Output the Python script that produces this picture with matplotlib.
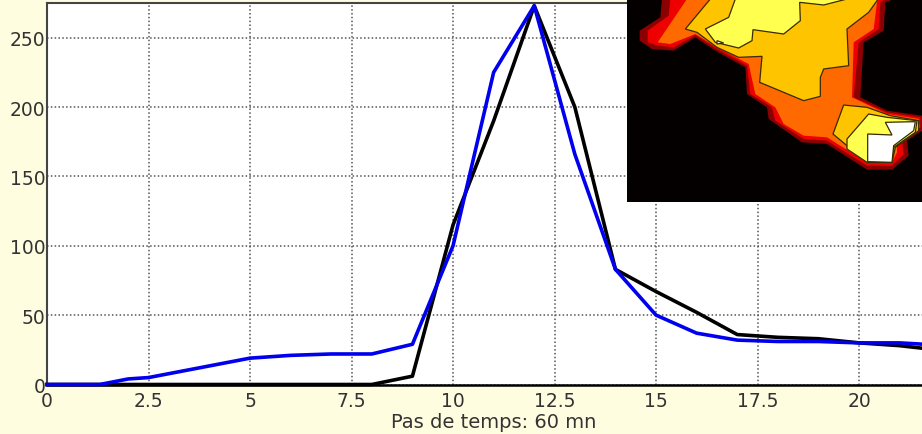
import matplotlib
matplotlib.use("Agg")
import matplotlib.pyplot as plt

W, H = 922, 435
BG = "#fffde0"

time_black = [0, 8, 9, 10, 11, 12, 13, 14, 15, 16, 17, 18, 19, 20, 21, 21.6]
flow_black = [0, 0, 6, 115, 190, 273, 200, 83, 67, 52, 36, 34, 33, 30, 28, 26]
time_blue = [0, 1.3, 2, 2.5, 5, 6, 7, 8, 9, 10, 11, 12, 13, 14, 15, 16, 17, 18, 19, 20, 21, 21.6]
flow_blue = [0, 0, 4, 5, 19, 21, 22, 22, 29, 100, 225, 273, 166, 83, 50, 37, 32, 31, 31, 30, 30, 29]

x_ticks = [0, 2.5, 5, 7.5, 10, 12.5, 15, 17.5, 20]
x_labels = ["0", "2.5", "5", "7.5", "10", "12.5", "15", "17.5", "20"]
y_ticks = [0, 50, 100, 150, 200, 250]

# inset map outlines, in the map's own pixel grid (885 x 615)
map_dark = [(105, 0), (100, 55), (38, 95), (38, 125), (75, 150), (140, 155), (205, 115), (265, 155), (355, 205),
            (360, 285), (420, 325), (425, 360), (525, 430), (600, 435), (720, 512), (795, 512), (845, 470),
            (840, 425), (885, 395), (885, 350), (780, 335), (700, 295), (710, 130), (770, 95), (775, 10), (800, 0)]
map_red = [(130, 0), (125, 50), (62, 95), (62, 130), (95, 140), (140, 145), (205, 108), (270, 150), (360, 200),
           (370, 285), (435, 325), (445, 365), (530, 420), (600, 425), (720, 500), (795, 500), (830, 465),
           (825, 425), (880, 385), (880, 355), (780, 340), (680, 295), (695, 130), (755, 90), (760, 10), (775, 0)]
map_orange = [(180, 0), (92, 130), (130, 135), (205, 105), (270, 145), (365, 195), (385, 285), (445, 325),
              (470, 375), (530, 410), (600, 415), (720, 490), (795, 490), (810, 460), (810, 440), (878, 385),
              (875, 360), (780, 345), (675, 295), (680, 130), (740, 90), (750, 10), (755, 0)]
map_amber = [(250, 0), (175, 90), (210, 100), (270, 145), (335, 175), (405, 172), (398, 250), (530, 305), (580, 292),
             (580, 235), (590, 210), (665, 200), (660, 90), (725, 40), (750, 5), (755, 0)]
map_amber2 = [(650, 318), (618, 405), (720, 490), (795, 490), (805, 445), (875, 395), (875, 365), (790, 350), (720, 325)]
map_yellow = [(325, 0), (305, 55), (235, 90), (265, 130), (335, 147), (375, 125), (378, 92), (470, 105), (520, 65),
              (518, 10), (590, 18), (660, 0)]
map_yellow2 = [(725, 345), (660, 420), (660, 450), (720, 490), (795, 490), (800, 445), (865, 400), (870, 365), (780, 355)]
map_white = [(775, 370), (865, 368), (860, 395), (800, 440), (795, 490), (722, 488), (722, 405), (795, 408)]
map_white2 = [(270, 125), (290, 132), (270, 135)]

map_layers = [
    (map_dark, "#8b0000", False),
    (map_red, "#ee0000", False),
    (map_orange, "#ff6a00", False),
    (map_amber, "#ffc400", True),
    (map_amber2, "#ffc400", True),
    (map_yellow, "#ffff50", True),
    (map_yellow2, "#ffff50", True),
    (map_white, "#ffffff", True),
    (map_white2, "#ffffff", True),
]

fig = plt.figure(figsize=(W / 100, H / 100), dpi=100, facecolor=BG)
plt.rcParams["font.family"] = "DejaVu Sans"

ax = fig.add_axes([47 / W, 1 - 385.5 / H, (W - 47) / W, (385.5 - 4) / H], facecolor="white")
ax.set_xlim(0, 21.55)
ax.set_ylim(0, 275)
ax.grid(True, color="#555555", linestyle=(0, (1, 1.5)), linewidth=1.1)
ax.set_axisbelow(True)

ax.plot(time_black, flow_black, color="black", linewidth=2.6, clip_on=False, zorder=3)
ax.plot(time_blue, flow_blue, color="#0000ee", linewidth=2.6, clip_on=False, zorder=4)

ax.set_xticks(x_ticks, x_labels)
ax.set_yticks(y_ticks)
ax.tick_params(length=0, labelsize=13.5, labelcolor="#333333", pad=1)
ax.tick_params(axis="x", pad=5)
ax.set_xlabel("Pas de temps: 60 mn", fontsize=14, color="#333333", va="center")
ax.xaxis.set_label_coords(0.51, -0.098)

ax.spines["right"].set_visible(False)
for side in ["left", "top"]:
    ax.spines[side].set_color("#444444")
    ax.spines[side].set_linewidth(1.5)
ax.spines["bottom"].set_color("black")
ax.spines["bottom"].set_linewidth(1.8)

inset = fig.add_axes([627 / W, 1 - 203 / H, 295 / W, 203 / H], facecolor="#050000")
inset.set_xlim(0, 885)
inset.set_ylim(609, 0)
inset.set_xticks([])
inset.set_yticks([])
for spine in inset.spines.values():
    spine.set_visible(False)
inset.set_zorder(5)

for outline, colour, edged in map_layers:
    xs, ys = zip(*outline)
    inset.fill(xs, ys, facecolor=colour, edgecolor="#3a2a00" if edged else "none", linewidth=0.9 if edged else 0)

fig.savefig("out.png", dpi=100, facecolor=BG)
